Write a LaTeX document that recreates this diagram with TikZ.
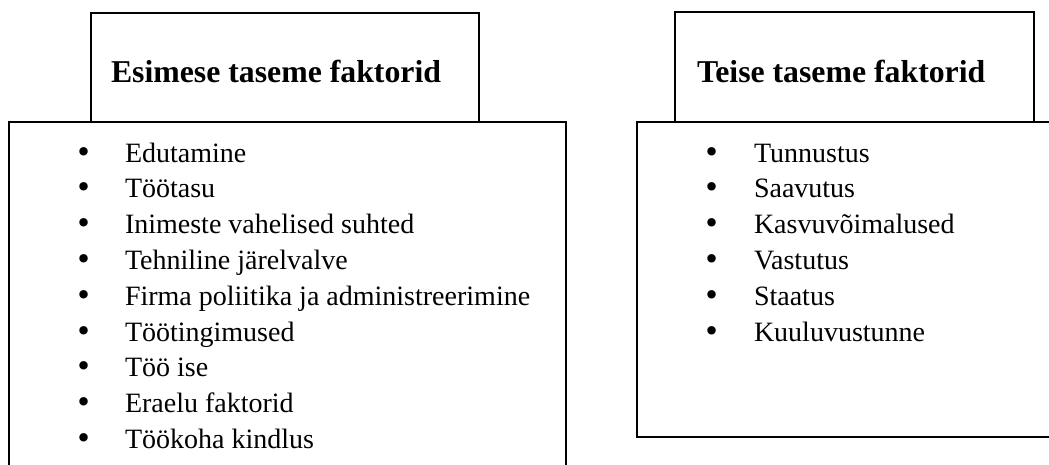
\documentclass[tikz,border=0pt]{standalone}
\usepackage{fontspec}
\setmainfont{Liberation Serif}
\newfontfamily\dotfont{DejaVu Sans}
\usetikzlibrary{positioning}
\newcommand{\pxu}{0.45pt}

\begin{document}
\begin{tikzpicture}[
    x=\pxu, y=-\pxu,
    every node/.style={inner sep=0pt, outer sep=0pt},
    frame/.style={rectangle, draw, line width=0.6pt, anchor=north west},
    title/.style={font=\fontsize{14.3}{16}\selectfont\bfseries, anchor=base west},
    item/.style={font=\fontsize{12.6}{14}\selectfont, anchor=base west},
    dot/.style={font=\dotfont\fontsize{13}{14}\selectfont, anchor=base}
  ]
  \useasboundingbox (0,0) rectangle (1049,464);
  \clip (0,0) rectangle (1049,464);

  % List boxes
  \node[frame, minimum width=557*\pxu, minimum height=360*\pxu] (list1) at (9,122) {};
  \node[frame, minimum width=430*\pxu, minimum height=315*\pxu] (list2) at (637,122) {};

  % Header boxes
  \node[frame, anchor=south west, minimum width=388*\pxu, minimum height=109*\pxu]
    (head1) at ([xshift=82*\pxu]list1.north west) {};
  \node[frame, anchor=south west, minimum width=359*\pxu, minimum height=110*\pxu]
    (head2) at ([xshift=38*\pxu]list2.north west) {};

  % Titles
  \node[title] (title1) at (111,82) {Esimese taseme faktorid};
  \node[title] (title2) at (697,82) {Teise taseme faktorid};

  % First level factors
  \foreach \txt [count=\i] in {Edutamine, Töötasu, Inimeste vahelised suhted,
      Tehniline järelvalve, Firma poliitika ja administreerimine, Töötingimused,
      Töö ise, Eraelu faktorid, Töökoha kindlus} {
    \node[dot] (bulA\i) at (84,{162+35.8*(\i-1)}) {•};
    \node[item] (itemA\i) at (125,{162+35.8*(\i-1)}) {\txt};
  }

  % Second level factors
  \foreach \txt [count=\i] in {Tunnustus, Saavutus, Kasvuvõimalused, Vastutus,
      Staatus, Kuuluvustunne} {
    \node[dot] (bulB\i) at (712,{162+35.8*(\i-1)}) {•};
    \node[item] (itemB\i) at (754,{162+35.8*(\i-1)}) {\txt};
  }
\end{tikzpicture}
\end{document}
